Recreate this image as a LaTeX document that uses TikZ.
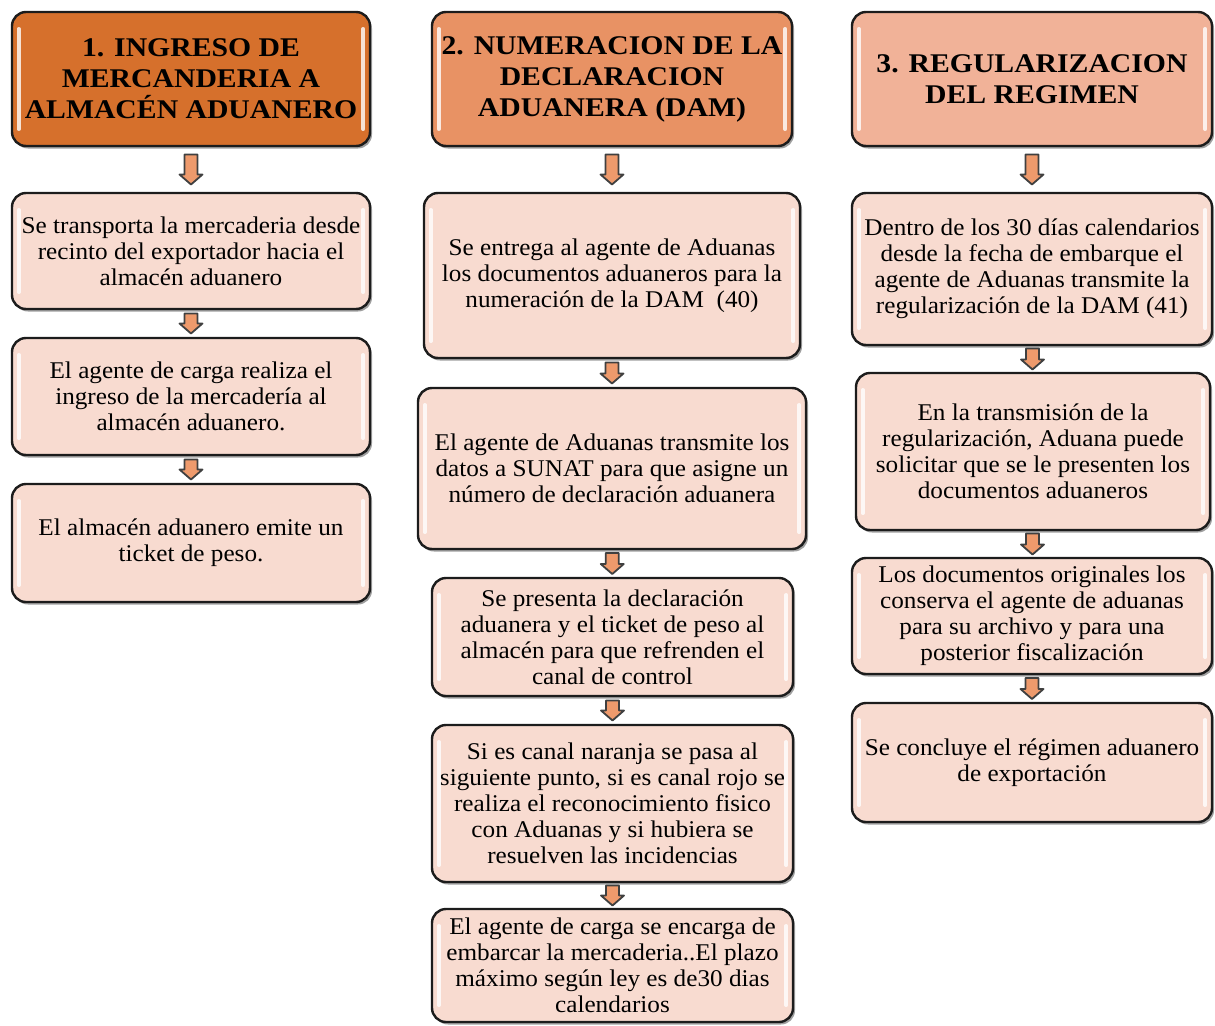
\documentclass[tikz,border=0pt]{standalone}
\usepackage{fontspec}
\setmainfont{Liberation Serif}[FakeStretch=1.05]
\newfontfamily\headfont{Liberation Serif}[FakeStretch=1.1]
\usetikzlibrary{shadows,calc}

\definecolor{headA}{RGB}{214,112,44}
\definecolor{headB}{RGB}{232,146,100}
\definecolor{headC}{RGB}{241,178,152}
\definecolor{bodyfill}{RGB}{248,219,208}
\definecolor{arrfill}{RGB}{238,154,108}
\definecolor{edge}{RGB}{28,28,28}

% block arrow pointing down, centred between two nodes: #1 upper, #2 lower, #3 length
\newcommand\stepdown[3]{%
  \draw[blockarr] let \p1=($(#1.south)!0.5!(#2.north)$), \n1={#3/2} in
    (\x1-6.5,\y1+\n1) -- (\x1+6.5,\y1+\n1) -- (\x1+6.5,\y1-\n1+10) --
    (\x1+11.5,\y1-\n1+10) -- (\x1,\y1-\n1) -- (\x1-11.5,\y1-\n1+10) --
    (\x1-6.5,\y1-\n1+10) -- cycle;}

\begin{document}
\begin{tikzpicture}[x=1pt,y=1pt,
  box/.style={rounded corners=14pt, draw=edge, line width=2.4pt, fill=bodyfill,
    align=center, inner sep=0pt,
    drop shadow={shadow xshift=2pt, shadow yshift=-2.5pt, fill=black!75},
    font=\fontsize{24}{26}\selectfont},
  headbox/.style={box, font=\headfont\bfseries\fontsize{27}{31}\selectfont},
  gloss/.style={white, line width=3.5pt, line cap=round, opacity=0.8},
  blockarr/.style={draw=black!75, line width=1.8pt, line join=round, fill=arrfill}
]
\useasboundingbox (0,0) rectangle (1215,-1025);

% ---------- column 1 ----------
\node[headbox, fill=headA, minimum width=358, minimum height=134] (h1) at (191,-79)
  {1. INGRESO DE\\MERCANDERIA A\\ALMACÉN ADUANERO};
\node[box, minimum width=358, minimum height=116] (a1) at (191,-251)
  {Se transporta la mercaderia desde\\recinto del exportador hacia el\\almacén aduanero};
\node[box, minimum width=358, minimum height=117] (a2) at (191,-396.5)
  {El agente de carga realiza el\\ingreso de la mercadería al\\almacén aduanero.};
\node[box, minimum width=358, minimum height=118] (a3) at (191,-543)
  {El almacén aduanero emite un\\ticket de peso.};

% ---------- column 2 ----------
\node[headbox, fill=headB, minimum width=360, minimum height=134] (h2) at (612,-79)
  {2. NUMERACION DE LA\\DECLARACION\\ADUANERA (DAM)};
\node[box, minimum width=376, minimum height=165] (b1) at (612,-275.5)
  {Se entrega al agente de Aduanas\\los documentos aduaneros para la\\numeración de la DAM~~(40)};
\node[box, minimum width=388, minimum height=161] (b2) at (612,-468.5)
  {El agente de Aduanas transmite los\\datos a SUNAT para que asigne un\\número de declaración aduanera};
\node[box, minimum width=361, minimum height=118] (b3) at (612.5,-637)
  {Se presenta la declaración\\aduanera y el ticket de peso al\\almacén para que refrenden el\\canal de control};
\node[box, minimum width=361, minimum height=157] (b4) at (612.5,-803.5)
  {Si es canal naranja se pasa al\\siguiente punto, si es canal rojo se\\realiza el reconocimiento fisico\\con Aduanas y si hubiera se\\resuelven las incidencias};
\node[box, minimum width=361, minimum height=113] (b5) at (612.5,-965.5)
  {El agente de carga se encarga de\\embarcar la mercaderia..El plazo\\máximo según ley es de30 dias\\calendarios};

% ---------- column 3 ----------
\node[headbox, fill=headC, minimum width=360, minimum height=134] (h3) at (1032,-79)
  {3. REGULARIZACION\\DEL REGIMEN};
\node[box, minimum width=360, minimum height=152] (c1) at (1032,-269)
  {Dentro de los 30 días calendarios\\desde la fecha de embarque el\\agente de Aduanas transmite la\\regularización de la DAM (41)};
\node[box, minimum width=354, minimum height=157] (c2) at (1033,-451.5)
  {En la transmisión de la\\regularización, Aduana puede\\solicitar que se le presenten los\\documentos aduaneros};
\node[box, minimum width=360, minimum height=116] (c3) at (1032,-616)
  {Los documentos originales los\\conserva el agente de aduanas\\para su archivo y para una\\posterior fiscalización};
\node[box, minimum width=360, minimum height=119] (c4) at (1032,-762.5)
  {Se concluye el régimen aduanero\\de exportación};

% glossy highlights along the inner side edges
\foreach \n in {h1,a1,a2,a3,h2,b1,b2,b3,b4,b5,h3,c1,c2,c3,c4}{
  \draw[gloss] ([xshift=8pt,yshift=-18pt]\n.north west) -- ([xshift=8pt,yshift=18pt]\n.south west);
  \draw[gloss] ([xshift=-8pt,yshift=-18pt]\n.north east) -- ([xshift=-8pt,yshift=18pt]\n.south east);
}

% ---------- block arrows between steps ----------
\stepdown{h1}{a1}{30}
\stepdown{a1}{a2}{20}
\stepdown{a2}{a3}{20}

\stepdown{h2}{b1}{30}
\stepdown{b1}{b2}{21}
\stepdown{b2}{b3}{21}
\stepdown{b3}{b4}{20}
\stepdown{b4}{b5}{20}

\stepdown{h3}{c1}{30}
\stepdown{c1}{c2}{21}
\stepdown{c2}{c3}{21}
\stepdown{c3}{c4}{21}
\end{tikzpicture}
\end{document}
